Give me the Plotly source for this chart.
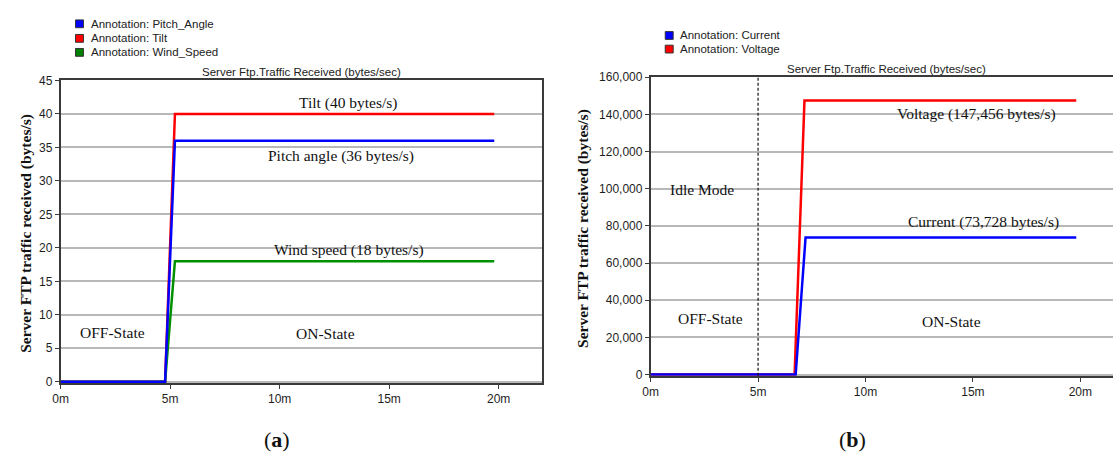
import plotly.graph_objects as go

# ---- (a) wind-turbine sensor traffic, bytes/s vs simulation time (minutes)
time_a = [0, 4.77, 5.22, 19.8]
pitch_angle = [0, 0, 36, 36]
tilt = [0, 0, 40, 40]
wind_speed = [0, 0, 18, 18]

# ---- (b) electrical sensor traffic
time_voltage = [0, 6.70, 7.16, 19.81]
voltage = [0, 0, 147456, 147456]
time_current = [0, 6.75, 7.21, 19.81]
current = [0, 0, 73728, 73728]

x_ticks = [0, 5, 10, 15, 20]
x_tick_labels = ["0m", "5m", "10m", "15m", "20m"]
y_ticks_a = [0, 5, 10, 15, 20, 25, 30, 35, 40, 45]
y_ticks_b = [0, 20000, 40000, 60000, 80000, 100000, 120000, 140000, 160000]

W, H = 1113, 462
RED, BLUE, GREEN = "#ff0000", "#0000ff", "#009000"
AX = "#3a3a3a"
GRID = "#b8b8b8"
SANS = "Liberation Sans, Arial, sans-serif"
SERIF = "Liberation Serif, Times New Roman, serif"


def px(x):
    return x / W


def py(y):
    return 1 - y / H


fig = go.Figure()

# panel (a) series
fig.add_trace(go.Scatter(x=time_a, y=tilt, mode="lines", name="Tilt",
                         line=dict(color=RED, width=2.5), xaxis="x", yaxis="y"))
fig.add_trace(go.Scatter(x=time_a, y=wind_speed, mode="lines", name="Wind_Speed",
                         line=dict(color=GREEN, width=2.5), xaxis="x", yaxis="y"))
fig.add_trace(go.Scatter(x=time_a, y=pitch_angle, mode="lines", name="Pitch_Angle",
                         line=dict(color=BLUE, width=2.5), xaxis="x", yaxis="y"))

# panel (b) series
fig.add_trace(go.Scatter(x=time_voltage, y=voltage, mode="lines", name="Voltage",
                         line=dict(color=RED, width=2.5), xaxis="x2", yaxis="y2"))
fig.add_trace(go.Scatter(x=time_current, y=current, mode="lines", name="Current",
                         line=dict(color=BLUE, width=2.5), xaxis="x2", yaxis="y2"))

tick_font = dict(family=SANS, size=12, color="#1e1e1e")
common_x = dict(tickmode="array", tickvals=x_ticks, ticktext=x_tick_labels,
                showgrid=False, zeroline=False,
                showline=True, linecolor=AX, linewidth=1.6, ticks="outside",
                ticklen=4, tickwidth=1.2, tickcolor=AX, tickfont=tick_font,
                layer="below traces")
common_y = dict(showgrid=True, gridcolor=GRID, gridwidth=1.5, zeroline=False,
                showline=True, linecolor=AX, linewidth=1.6, ticks="outside",
                ticklen=4, tickwidth=1.2, tickcolor=AX, tickfont=tick_font,
                layer="below traces")

fig.update_layout(
    width=W, height=H,
    margin=dict(l=0, r=0, t=0, b=0),
    paper_bgcolor="white", plot_bgcolor="white",
    showlegend=False,
    xaxis=dict(domain=[px(53), px(538.3)], range=[0, 22], anchor="y",
               mirror=True, **common_x),
    yaxis=dict(domain=[py(387), py(75.6)], range=[-0.2, 45], anchor="x",
               tickvals=y_ticks_a, mirror=True, **common_y),
    xaxis2=dict(domain=[px(647.3), 1], range=[0, 21.52], anchor="y2",
                mirror=True, **common_x),
    yaxis2=dict(domain=[py(379.5), py(72.3)], range=[-700, 160000], anchor="x2",
                tickvals=y_ticks_b, tickformat=",d", mirror=False, **common_y),
)

# idle-mode boundary at 5 minutes
fig.add_shape(type="line", xref="x2", yref="y2 domain", x0=5, x1=5, y0=0, y1=1,
              line=dict(color="#111", width=1.2, dash="3px,2px"))

annotations = []

# chart titles
for cx, cy in [(295.6, 66.7), (885, 64.3)]:
    annotations.append(dict(xref="paper", yref="paper", x=px(cx), y=py(cy),
                            text="Server Ftp.Traffic Received (bytes/sec)",
                            showarrow=False, xanchor="center", yanchor="middle",
                            font=dict(family=SANS, size=11.5, color="#222")))

# legends
legend_a = [("Annotation: Pitch_Angle", BLUE, 17.3),
            ("Annotation: Tilt", RED, 32.3),
            ("Annotation: Wind_Speed", "#008000", 46.7)]
legend_b = [("Annotation: Current", BLUE, 29.3),
            ("Annotation: Voltage", RED, 43.3)]
for items, sx, tx in [(legend_a, 72, 81.5), (legend_b, 666, 675)]:
    for label, col, ly in items:
        fig.add_shape(type="rect", xref="paper", yref="paper",
                      x0=px(sx - 4), x1=px(sx + 4), y0=py(ly + 4), y1=py(ly - 4),
                      fillcolor=col, line=dict(color="#333", width=1))
        annotations.append(dict(xref="paper", yref="paper", x=px(tx), y=py(ly),
                                text=label, showarrow=False, xanchor="left",
                                yanchor="middle",
                                font=dict(family=SANS, size=11.5, color="#222")))

# in-plot labels
serif_font = dict(family=SERIF, size=15.5, color="#111")
labels_a = [("Tilt (40 bytes/s)", 13.1, 41.6),
            ("Pitch angle (36 bytes/s)", 12.78, 33.7),
            ("Wind speed (18 bytes/s)", 13.19, 19.7),
            ("OFF-State", 2.39, 7.37),
            ("ON-State", 12.1, 7.27)]
labels_b = [("Voltage (147,456 bytes/s)", 15.19, 140400),
            ("Current (73,728 bytes/s)", 15.5, 82200),
            ("Idle Mode", 2.37, 99600),
            ("OFF-State", 2.77, 30100),
            ("ON-State", 14.02, 28400)]
for items, xr, yr in [(labels_a, "x", "y"), (labels_b, "x2", "y2")]:
    for text, lx, ly in items:
        annotations.append(dict(xref=xr, yref=yr, x=lx, y=ly, text=text,
                                showarrow=False, xanchor="center", yanchor="middle",
                                font=serif_font))

# y-axis titles
for cx, cy in [(18.5, 233), (578.5, 228)]:
    annotations.append(dict(xref="paper", yref="paper", x=px(cx), y=py(cy),
                            text="<b>Server FTP traffic received (bytes/s)</b>",
                            textangle=-90, showarrow=False,
                            xanchor="center", yanchor="middle",
                            font=dict(family=SERIF, size=15.5, color="#111")))

# panel captions
for cx, letter in [(271, "a"), (851, "b")]:
    annotations.append(dict(xref="paper", yref="paper", x=px(cx), y=py(445),
                            text=f"(<b>{letter}</b>)", showarrow=False,
                            xanchor="center", yanchor="middle",
                            font=dict(family=SERIF, size=22, color="#111")))

fig.update_layout(annotations=annotations)

# page without the default body margin so the figure fills the window exactly
fig.write_html("out.html",
               post_script="document.body.style.margin='0';"
                           "document.body.style.overflow='hidden';")
